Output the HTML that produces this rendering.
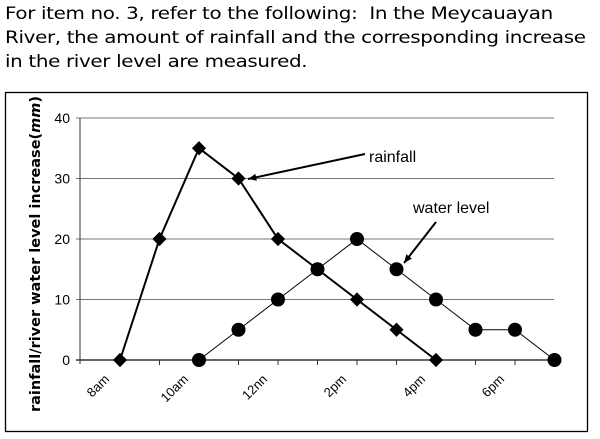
<!DOCTYPE html>
<html><head><meta charset="utf-8"><style>
body{margin:0;width:600px;height:439px;background:#fff;overflow:hidden;font-family:"DejaVu Sans","Liberation Sans",sans-serif}
#q{position:absolute;left:5px;top:2px;font-size:17px;line-height:24px;color:#000;letter-spacing:-0.3px;white-space:nowrap;transform:scaleX(1.17);transform-origin:0 0}
svg{position:absolute;left:0;top:0}
</style></head><body>
<div id="q">For item no. 3, refer to the following:&nbsp; In the Meycauayan<br>River, the amount of rainfall and the corresponding increase<br>in the river level are measured.</div>
<svg id="c" width="600" height="439"></svg>
<script>
const categories=["8am","","10am","","12nn","","2pm","","4pm","","6pm",""];
const rainfall=[0,20,35,30,20,15,10,5,0];
const waterLevel=[null,null,0,5,10,15,20,15,10,5,5,0];
const yTicks=[0,10,20,30,40];
const NS="http://www.w3.org/2000/svg";
const svg=document.getElementById('c');
const x=i=>120+i*39.5;
const y=v=>360-v*6.05;
function el(t,a,p){const e=document.createElementNS(NS,t);for(const k in a)e.setAttribute(k,a[k]);(p||svg).appendChild(e);return e;}
const frame=el('rect',{x:5.5,y:92.5,width:582,height:339,fill:'none',stroke:'#000','stroke-width':1.3});


yTicks.forEach(t=>{
 const g=el('line',{x1:76,x2:554,y1:y(t),y2:y(t),stroke:t==0?'#333':'#777','stroke-width':t==0?1.5:1});
 
 
 const l=el('text',{x:70,y:y(t)+5,'text-anchor':'end','font-size':14,'font-family':'Liberation Sans, sans-serif'});
 l.textContent=t;
 
 
});
const ax=el('line',{x1:80,x2:80,y1:y(40),y2:y(0)+4,stroke:'#333','stroke-width':1});


categories.forEach((c,i)=>{
 const tk=el('line',{x1:x(i),x2:x(i),y1:y(0),y2:y(0)+5,stroke:'#333'});
 
 
 if(c){const t=el('text',{x:x(i)-10,y:y(0)+20,'text-anchor':'end','font-size':13,'font-family':'Liberation Sans, sans-serif',transform:`rotate(-45 ${x(i)-10} ${y(0)+20})`});
 t.textContent=c;
 
 }
});
const yl=el('text',{x:0,y:0,'font-size':14.5,'font-weight':'bold','text-anchor':'middle','font-family':'DejaVu Sans, sans-serif',transform:'translate(40 254) rotate(-90)'});
yl.innerHTML='rainfall/river water level increase(<tspan font-style="italic">mm</tspan>)';


function pts(arr){return arr.map((v,i)=>v==null?null:[x(i),y(v)]).filter(p=>p);}
const rp=pts(rainfall), wp=pts(waterLevel);
const wl=el('polyline',{points:wp.map(p=>p.join(',')).join(' '),fill:'none',stroke:'#000','stroke-width':1});


const rl=el('polyline',{points:rp.map(p=>p.join(',')).join(' '),fill:'none',stroke:'#000','stroke-width':2});


wp.forEach(p=>{const m=el('circle',{cx:p[0],cy:p[1],r:7,fill:'#000'});
 
 });
rp.forEach(p=>{const m=el('rect',{x:p[0]-5,y:p[1]-5,width:10,height:10,fill:'#000',transform:`rotate(45 ${p[0]} ${p[1]})`});
 
 });
function arrow(x1,y1,x2,y2,name){
 const l=el('line',{x1,y1,x2,y2,stroke:'#000','stroke-width':2});
 
 
 const a=Math.atan2(y2-y1,x2-x1),s=9;
 const h=el('polygon',{points:`${x2},${y2} ${x2-s*Math.cos(a-0.4)},${y2-s*Math.sin(a-0.4)} ${x2-s*Math.cos(a+0.4)},${y2-s*Math.sin(a+0.4)}`,fill:'#000'});
 
 
}
arrow(365,154,248,179,'rainfall-arrow');
arrow(436,222,404,263,'water-level-arrow');
const t1=el('text',{x:369,y:162,'font-size':16,'font-family':'Liberation Sans, sans-serif'});t1.textContent='rainfall';


const t2=el('text',{x:413,y:213,'font-size':16,'font-family':'Liberation Sans, sans-serif'});t2.textContent='water level';


</script>
</body></html>
